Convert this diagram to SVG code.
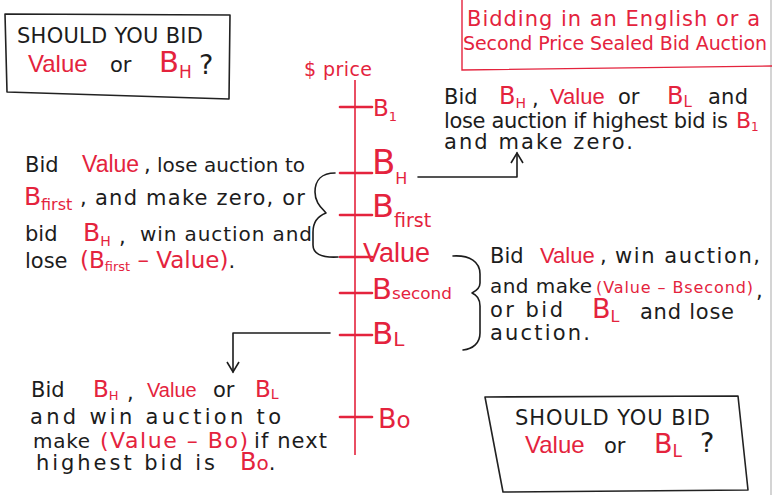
<svg xmlns="http://www.w3.org/2000/svg" width="772" height="495" viewBox="0 0 772 495">
<style>
text{font-family:"DejaVu Sans","Liberation Sans",sans-serif}
.k{fill:#1c1c1c;font-size:21px}
.r{fill:#e4233d}
.v{font-family:"Liberation Sans",Arial,sans-serif}
.ln{fill:none;stroke:#1c1c1c;stroke-width:1.6;stroke-linecap:round;stroke-linejoin:round}
.tick{stroke:#e4233d;stroke-width:2.6;stroke-linecap:round}
.box{fill:none;stroke:#222;stroke-width:1.6;stroke-linejoin:round}
</style>
<defs>
<marker id="ah" viewBox="0 0 14 14" refX="12" refY="7" markerWidth="14" markerHeight="14" markerUnits="userSpaceOnUse" orient="auto">
<path d="M2,1 L12,7 L2,13" fill="none" stroke="#1c1c1c" stroke-width="1.6"/>
</marker>
</defs>
<rect width="772" height="495" fill="#fff"/>
<line x1="771" y1="0" x2="771" y2="495" stroke="#b8b8b8" stroke-width="1.2"/>

<g id="title-box">
<path d="M462,0 L462,70 L772,66" fill="none" stroke="#e4233d" stroke-width="1.4"/>
<text class="r" x="467" y="26" font-size="21" textLength="293">Bidding in an English or a</text>
<text class="r" x="463" y="50" font-size="19" textLength="304">Second Price Sealed Bid Auction</text>
</g>

<g id="question-bh">
<path class="box" d="M5,14 L230,15 L229,99 L7,92 Z"/>
<text class="k" x="17" y="43" font-size="20" textLength="186">SHOULD YOU BID</text>
<text class="k" y="72"><tspan class="r v" x="28" font-size="24">Value</tspan><tspan x="110" font-size="21">or</tspan><tspan class="r" x="159" font-size="29">B</tspan><tspan class="r" font-size="17" dy="6">H</tspan><tspan x="199" dy="-4" font-size="27">?</tspan></text>
</g>

<g id="question-bl">
<path class="box" d="M485,397 L738,396 L748,490 L503,492 Z"/>
<text class="k" x="515" y="425" font-size="21" textLength="195">SHOULD YOU BID</text>
<text class="k" y="453"><tspan class="r v" x="525" font-size="24">Value</tspan><tspan x="604" font-size="21">or</tspan><tspan class="r" x="654" font-size="27">B</tspan><tspan class="r" font-size="17" dy="4">L</tspan><tspan x="700" dy="-5" font-size="27">?</tspan></text>
</g>

<g id="price-axis">
<line x1="355" y1="80" x2="355" y2="455" stroke="#e4233d" stroke-width="1.6"/>
<line class="tick" x1="340" y1="107" x2="372" y2="107"/>
<line class="tick" x1="340" y1="173" x2="372" y2="173"/>
<line class="tick" x1="340" y1="215" x2="372" y2="215"/>
<line class="tick" x1="340" y1="257" x2="372" y2="257"/>
<line class="tick" x1="340" y1="293" x2="372" y2="293"/>
<line class="tick" x1="340" y1="335" x2="372" y2="335"/>
<line class="tick" x1="340" y1="417" x2="372" y2="417"/>
<text class="r" x="304" y="76" font-size="19" textLength="68">$ price</text>
</g>

<g id="tick-b1"><text class="r" x="373" y="116" font-size="23">B<tspan font-size="13" dy="5">1</tspan></text></g>
<g id="tick-bh"><text class="r" x="372" y="174" font-size="34">B<tspan font-size="16" dy="10">H</tspan></text></g>
<g id="tick-bfirst"><text class="r" x="372" y="217" font-size="32">B<tspan font-size="19" dy="10">first</tspan></text></g>
<g id="tick-value"><text class="r v" x="363" y="262" font-size="27">Value</text></g>
<g id="tick-bsecond"><text class="r" x="372" y="299" font-size="29">B<tspan font-size="16" textLength="60" lengthAdjust="spacingAndGlyphs">second</tspan></text></g>
<g id="tick-bl"><text class="r" x="372" y="344" font-size="31">B<tspan font-size="20" dy="2">L</tspan></text></g>
<g id="tick-bo"><text class="r" x="378" y="428" font-size="27">B<tspan font-size="23">o</tspan></text></g>

<g id="connectors">
<path class="ln" d="M418,177 L517,177 L517,153" marker-end="url(#ah)"/>
<path class="ln" d="M330,333 L233,333 L233,372" marker-end="url(#ah)"/>
<path class="ln" d="M335,173 C322,173 315,180 315,192 C315,203 322,208 326,213 C318,216 313,222 313,232 L313,245 C313,253 320,258 338,257"/>
<path class="ln" d="M453,256 C470,255 480,262 480,274 L480,283 C480,288 476,291 472,293 C477,295 480,299 480,306 L480,333 C480,343 473,349 463,350"/>
</g>

<g id="note-lose-top">
<text class="k" y="104"><tspan x="444">Bid</tspan><tspan class="r" x="499" font-size="24">B</tspan><tspan class="r" font-size="14" dy="4">H</tspan><tspan x="532" dy="-2">,</tspan><tspan class="r v" x="550" dy="-2" font-size="22">Value</tspan><tspan x="618">or</tspan><tspan class="r" x="667" font-size="24">B</tspan><tspan class="r" font-size="15" dy="3">L</tspan><tspan x="708" dy="-3" textLength="40">and</tspan></text>
<text class="k" y="128" font-size="17"><tspan x="444" textLength="284">lose auction if highest bid is</tspan><tspan class="r" x="736" font-size="22">B</tspan><tspan class="r" font-size="12" dy="3">1</tspan></text>
<text class="k" x="444" y="149" font-size="17" textLength="189">and make zero.</text>
</g>

<g id="note-value-vs-bh">
<text class="k" y="172"><tspan x="25">Bid</tspan><tspan class="r v" x="82" font-size="23">Value</tspan><tspan x="144">,</tspan><tspan x="157" font-size="20" textLength="148">lose auction to</tspan></text>
<text class="k" y="205"><tspan class="r" x="24" font-size="25">B</tspan><tspan class="r" x="41" dy="5" font-size="16">first</tspan><tspan x="80" dy="-5">,</tspan><tspan x="95" textLength="210">and make zero, or</tspan></text>
<text class="k" y="241"><tspan x="25">bid</tspan><tspan class="r" x="83" font-size="25">B</tspan><tspan class="r" font-size="14" dy="5">H</tspan><tspan x="119" dy="-2">,</tspan><tspan x="140" dy="-3" font-size="20" textLength="172">win auction and</tspan></text>
<text class="k" y="268"><tspan x="25">lose</tspan><tspan class="r" x="80" font-size="23">(B</tspan><tspan class="r" font-size="13" dy="3">first</tspan><tspan class="r" font-size="23" dy="-3"> – Value)</tspan><tspan>.</tspan></text>
</g>

<g id="note-value-vs-bl">
<text class="k" y="263"><tspan x="490">Bid</tspan><tspan class="r v" x="540" font-size="22">Value</tspan><tspan x="600">,</tspan><tspan x="615" textLength="145">win auction,</tspan></text>
<text class="k" y="293"><tspan x="490" font-size="20" textLength="102">and make</tspan><tspan class="r" x="596" font-size="16" textLength="157">(Value – Bsecond)</tspan><tspan x="756" dy="5">,</tspan></text>
<text class="k" y="317"><tspan x="490" textLength="73">or bid</tspan><tspan class="r" x="592" dy="1" font-size="27">B</tspan><tspan class="r" font-size="16" dy="4">L</tspan><tspan x="640" dy="-3" textLength="94">and lose</tspan></text>
<text class="k" x="490" y="340" textLength="100">auction.</text>
</g>

<g id="note-win-bottom">
<text class="k" y="397"><tspan x="31">Bid</tspan><tspan class="r" x="93" font-size="23">B</tspan><tspan class="r" font-size="13" dy="3">H</tspan><tspan x="127">,</tspan><tspan class="r v" x="147" dy="-3" font-size="20">Value</tspan><tspan x="213">or</tspan><tspan class="r" x="255" font-size="23">B</tspan><tspan class="r" font-size="14" dy="2">L</tspan></text>
<text class="k" x="30" y="424" textLength="251">and win auction to</text>
<text class="k" y="448"><tspan x="33" font-size="20" textLength="57">make</tspan><tspan class="r" x="100" font-size="22" textLength="148">(Value – Bo)</tspan><tspan x="254" textLength="73">if next</tspan></text>
<text class="k" y="470"><tspan x="36" textLength="179">highest bid is</tspan><tspan class="r" x="240" font-size="24">B</tspan><tspan class="r" font-size="20">o</tspan><tspan>.</tspan></text>
</g>
</svg>
